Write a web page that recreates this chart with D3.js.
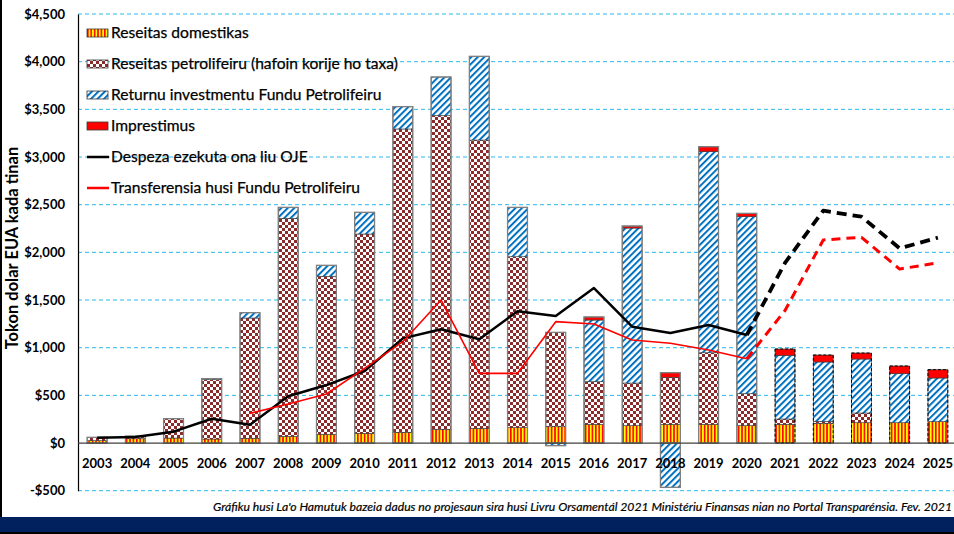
<!DOCTYPE html>
<html>
<head>
<meta charset="utf-8">
<script src="https://cdn.jsdelivr.net/npm/d3@7"></script>
<style>
  body { margin: 0; background: #fff; }
  svg { display: block; font-family: Lato, "Open Sans", sans-serif; }
</style>
</head>
<body>
<svg id="chart" width="954" height="534"></svg>
<script>
// data (million US$)
var years = ["2003","2004","2005","2006","2007","2008","2009","2010","2011","2012","2013","2014",
  "2015","2016","2017","2018","2019","2020","2021","2022","2023","2024","2025"];
var domestic = [25, 45, 52, 42, 50, 70, 91, 102, 112, 143, 154, 161, 171, 196, 182, 196, 196, 182, 196, 206, 213, 213, 224];
var petroleum = [35, 28, 203, 623, 1261, 2287, 1658, 2090, 3182, 3291, 3024, 1793, 990, 447, 447, 493, 751, 335, 56, 21, 102, 0, 0];
var fundReturn = [0, 0, 0, 10, 56, 115, 115, 228, 234, 405, 878, 518, -28, 647, 1626, -465, 2109, 1857, 668, 623, 566, 514, 458];
var loans = [0, 0, 0, 0, 0, 0, 0, 0, 0, 0, 0, 0, 0, 32, 21, 49, 52, 35, 66, 73, 63, 81, 87];
var spending = [56, 63, 119, 255, 192, 490, 608, 755, 1098, 1193, 1088, 1382, 1332, 1626, 1220, 1154, 1238, 1133, 1890, 2437, 2374, 2042, 2154];
var transfers = [null, null, null, null, 311, 409, 514, 783, 1063, 1500, 731, 731, 1273, 1248, 1080, 1046, 976, 884, 1390, 2130, 2158, 1825, 1891];
var yTicks = [-500, 0, 500, 1000, 1500, 2000, 2500, 3000, 3500, 4000, 4500];
var lastActual = "2020";

var keys = ["domestic", "petroleum", "fundReturn", "loans"];
var fills = { domestic: "url(#pDom)", petroleum: "url(#pPet)", fundReturn: "url(#pRet)", loans: "#ff0000" };
var legendItems = [
  { label: "Reseitas domestikas", type: "box", key: "domestic" },
  { label: "Reseitas petrolifeiru (hafoin korije ho taxa)", type: "box", key: "petroleum" },
  { label: "Returnu investmentu Fundu Petrolifeiru", type: "box", key: "fundReturn" },
  { label: "Imprestimus", type: "box", key: "loans" },
  { label: "Despeza ezekuta ona liu OJE", type: "line", color: "#000" },
  { label: "Transferensia husi Fundu Petrolifeiru", type: "line", color: "#ff0000" }
];

var rows = years.map(function (yr, i) {
  return { year: yr, domestic: domestic[i], petroleum: petroleum[i], fundReturn: fundReturn[i], loans: loans[i] };
});

var svg = d3.select("#chart");
var margin = { left: 78, right: 957, top: 14, bottom: 490.7 };

var x = d3.scaleBand().domain(years).range([margin.left, margin.right]).paddingInner(0.48).paddingOuter(0.24);
var y = d3.scaleLinear().domain([-500, 4500]).range([margin.bottom, margin.top]);

// patterns
var defs = svg.append("defs");
var pd = defs.append("pattern").attr("id", "pDom").attr("patternUnits", "userSpaceOnUse").attr("width", 3.4).attr("height", 4);
pd.append("rect").attr("width", 3.4).attr("height", 4).attr("fill", "#ffff00");
pd.append("rect").attr("width", 1.6).attr("height", 4).attr("fill", "#ff0000");
var pp = defs.append("pattern").attr("id", "pPet").attr("patternUnits", "userSpaceOnUse").attr("width", 6).attr("height", 6);
pp.append("rect").attr("width", 6).attr("height", 6).attr("fill", "#fff");
pp.append("rect").attr("width", 3).attr("height", 3).attr("fill", "#8a2a2a");
pp.append("rect").attr("x", 3).attr("y", 3).attr("width", 3).attr("height", 3).attr("fill", "#8a2a2a");
var pr = defs.append("pattern").attr("id", "pRet").attr("patternUnits", "userSpaceOnUse").attr("width", 4.6).attr("height", 4.6)
  .attr("patternTransform", "rotate(45)");
pr.append("rect").attr("width", 4.6).attr("height", 4.6).attr("fill", "#fff");
pr.append("rect").attr("width", 2).attr("height", 4.6).attr("fill", "#0070c0");

// gridlines
svg.append("g").selectAll("line").data(yTicks.filter(function (d) { return d !== 0; })).enter().append("line")
  .attr("x1", margin.left).attr("x2", 954).attr("y1", function (d) { return y(d); }).attr("y2", function (d) { return y(d); })
  .attr("stroke", "#29b9ef").attr("stroke-width", 1).attr("stroke-dasharray", "4,3");

// y axis
var yAxis = svg.append("g").attr("transform", "translate(" + margin.left + ",0)")
  .call(d3.axisLeft(y).tickValues(yTicks).tickSize(0).tickPadding(13)
    .tickFormat(function (d) { return (d < 0 ? "-$" : "$") + d3.format(",")(Math.abs(d)); }));
yAxis.select(".domain").attr("stroke", "#000").attr("stroke-width", 1.2);
yAxis.selectAll("text").attr("font-size", 13).attr("font-weight", "bold").attr("fill", "#000").attr("font-family", "Lato");

// stacked bars
var series = d3.stack().keys(keys).offset(d3.stackOffsetDiverging)(rows);
var bars = svg.append("g");
series.forEach(function (s) {
  bars.selectAll(null).data(s.filter(function (d) { return d[1] !== d[0]; })).enter().append("rect")
    .attr("x", function (d) { return x(d.data.year); })
    .attr("width", x.bandwidth())
    .attr("y", function (d) { return y(Math.max(d[0], d[1])); })
    .attr("height", function (d) { return Math.abs(y(d[0]) - y(d[1])); })
    .attr("fill", fills[s.key])
    .attr("stroke", "#3a3a3a").attr("stroke-width", 0.6);
});
// outline of each bar (future years dashed)
rows.forEach(function (r) {
  var pos = 0, neg = 0;
  keys.forEach(function (k) { if (r[k] > 0) pos += r[k]; else neg += r[k]; });
  var future = +r.year > +lastActual;
  [[0, pos], [neg, 0]].forEach(function (ext) {
    if (ext[0] === ext[1]) return;
    bars.append("rect")
      .attr("x", x(r.year)).attr("width", x.bandwidth())
      .attr("y", y(ext[1])).attr("height", y(ext[0]) - y(ext[1]))
      .attr("fill", "none")
      .attr("stroke", future ? "#000" : "#808080")
      .attr("stroke-width", future ? 1 : 1.3)
      .attr("stroke-dasharray", future ? "3,2" : null);
  });
});

// zero line
svg.append("line").attr("x1", margin.left).attr("x2", 954).attr("y1", y(0)).attr("y2", y(0))
  .attr("stroke", "#404040").attr("stroke-width", 1.3);

// x labels
svg.append("g").selectAll("text").data(years).enter().append("text")
  .attr("x", function (d) { return x(d) + x.bandwidth() / 2; })
  .attr("y", y(0) + 25)
  .attr("text-anchor", "middle").attr("font-size", 13).attr("font-weight", "bold")
  .text(function (d) { return d; });

// lines
var cx = function (i) { return x(years[i]) + x.bandwidth() / 2; };
var lastIdx = years.indexOf(lastActual);
function drawLine(vals, color, w, wDash, dash) {
  var pts = vals.map(function (v, i) { return v === null ? null : [cx(i), y(v)]; });
  var solid = pts.filter(function (p, i) { return p && i <= lastIdx; });
  var dashed = pts.filter(function (p, i) { return p && i >= lastIdx; });
  var line = d3.line();
  svg.append("path").attr("d", line(solid)).attr("fill", "none").attr("stroke", color)
    .attr("stroke-width", w).attr("stroke-linejoin", "round");
  svg.append("path").attr("d", line(dashed)).attr("fill", "none").attr("stroke", color)
    .attr("stroke-width", wDash).attr("stroke-dasharray", dash).attr("stroke-linejoin", "round");
}
drawLine(spending, "#000", 2.5, 3.8, "10,6");
drawLine(transfers, "#ff0000", 1.6, 3, "9,6");

// legend
var lg = svg.append("g").selectAll("g").data(legendItems).enter().append("g")
  .attr("transform", function (d, i) { return "translate(87," + (33 + i * 31) + ")"; });
lg.filter(function (d) { return d.type === "box"; }).append("rect")
  .attr("x", 0).attr("y", -4).attr("width", 21).attr("height", 8)
  .attr("fill", function (d) { return fills[d.key]; })
  .attr("stroke", "#3a3a3a").attr("stroke-width", 0.8);
lg.filter(function (d) { return d.type === "line"; }).append("line")
  .attr("x1", 0).attr("x2", 22).attr("y1", 0).attr("y2", 0)
  .attr("stroke", function (d) { return d.color; }).attr("stroke-width", 2.5);
lg.append("text").attr("x", 24).attr("y", 5).attr("font-size", 15.6).attr("fill", "#000")
  .attr("stroke", "#000").attr("stroke-width", 0.25)
  .text(function (d) { return d.label; });

// y title
svg.append("text").attr("transform", "translate(18,248) rotate(-90)")
  .attr("text-anchor", "middle").attr("font-size", 16.5).attr("font-weight", "bold")
  .text("Tokon dolar EUA kada tinan");

// source note
svg.append("text").attr("x", 952).attr("y", 511).attr("text-anchor", "end")
  .attr("font-size", 11.5).attr("font-style", "italic").attr("textLength", 739).attr("lengthAdjust", "spacingAndGlyphs")
  .attr("stroke", "#000").attr("stroke-width", 0.2)
  .text("Gráfiku husi La'o Hamutuk bazeia dadus no projesaun sira husi Livru Orsamentál 2021 Ministériu Finansas  nian no Portal Transparénsia.  Fev. 2021");

// bottom band and edge
svg.append("rect").attr("x", 0).attr("y", 517).attr("width", 954).attr("height", 15).attr("fill", "#00205e");
svg.append("rect").attr("x", 0).attr("y", 532).attr("width", 954).attr("height", 2).attr("fill", "#000");
svg.append("rect").attr("x", 0).attr("y", 0).attr("width", 2).attr("height", 517).attr("fill", "#000");
</script>
</body>
</html>
